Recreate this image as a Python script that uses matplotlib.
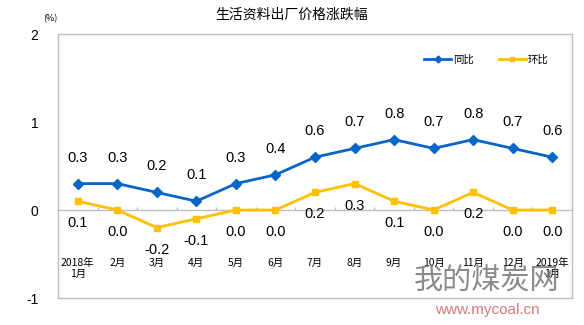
import matplotlib
matplotlib.use("Agg")
import matplotlib.pyplot as plt

plt.rcParams['font.family'] = ['Liberation Sans', 'Noto Sans CJK SC', 'DejaVu Sans']

categories = ["2018年\n1月", "2月", "3月", "4月", "5月", "6月", "7月", "8月",
              "9月", "10月", "11月", "12月", "2019年\n1月"]
yoy = [0.3, 0.3, 0.2, 0.1, 0.3, 0.4, 0.6, 0.7, 0.8, 0.7, 0.8, 0.7, 0.6]
mom = [0.1, 0.0, -0.2, -0.1, 0.0, 0.0, 0.2, 0.3, 0.1, 0.0, 0.2, 0.0, 0.0]
yticks = [-1, 0, 1, 2]

BLUE = "#0866C6"
YELLOW = "#FFC000"
GRAY = "#BFBFBF"

W, H = 584, 325
fig = plt.figure(figsize=(W / 100, H / 100), dpi=100)
ax = fig.add_axes([58 / W, (H - 298) / H, 514 / W, 264 / H])

x = list(range(len(categories)))
ax.plot(x, yoy, color=BLUE, lw=2, marker="D", ms=5, label="同比", zorder=3)
ax.plot(x, mom, color=YELLOW, lw=2, marker="s", ms=5, label="环比", zorder=3)

ax.set_xlim(-0.5, len(categories) - 0.5)
ax.set_ylim(-1, 2)

for s in ax.spines.values():
    s.set_color(GRAY)
    s.set_linewidth(1)

ax.axhline(0, color=GRAY, lw=1, zorder=1)
# category boundary ticks on zero line (pointing up)
ax.vlines([i + 0.5 for i in range(len(categories) - 1)], 0, 0.035, color=GRAY, lw=1, zorder=1)

ax.set_yticks(yticks)
ax.set_yticklabels([str(v) for v in yticks], fontsize=10)
ax.tick_params(axis="y", length=0, pad=14)

ax.set_xticks(x)
ax.set_xticklabels(categories, fontsize=7.5, linespacing=1.15,
                   family=['SimSun', 'Noto Sans CJK SC', 'DejaVu Sans'])
ax.tick_params(axis="x", length=0, pad=-29)

for i, v in enumerate(yoy):
    ax.annotate(f"{v:.1f}", (i, v), xytext=(0, 26), textcoords="offset pixels",
                ha="center", va="center", fontsize=10.5, color="black")
for i, v in enumerate(mom):
    ax.annotate(f"{v:.1f}", (i, v), xytext=(0, -22), textcoords="offset pixels",
                ha="center", va="center", fontsize=10.5, color="black")

leg = ax.legend(loc="center right", bbox_to_anchor=(0.955, (298 - 60) / 264), ncol=2,
                frameon=False, fontsize=7.5, handlelength=2.6, columnspacing=2.4,
                handletextpad=0.2, markerscale=0.7, borderaxespad=0, borderpad=0)

fig.text(292 / W, 1 - 15 / H, "生活资料出厂价格涨跌幅", ha="center", va="center",
         fontsize=10, family=['Noto Sans CJK SC'])
fig.text(50 / W, 1 - 19 / H, "(%)", ha="center", va="center", fontsize=6.5,
         family=['Noto Sans CJK SC'])

# watermark
fig.text(487 / W, 1 - 282 / H, "我的煤炭网", ha="center", va="center", fontsize=21,
         color="#6e6e6e", alpha=0.8, family=['Noto Sans CJK SC'])
fig.text(487 / W, 1 - 310 / H, "www.mycoal.cn", ha="center", va="center", fontsize=11,
         color="#d06a6a", alpha=0.9)

fig.savefig("out.png", dpi=100)
